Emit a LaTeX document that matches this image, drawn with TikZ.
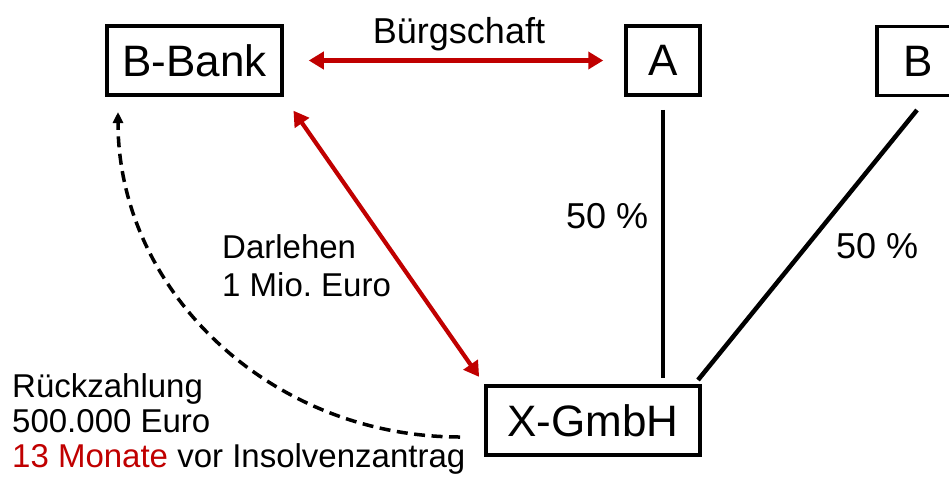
\documentclass[tikz,border=0pt]{standalone}
\usepackage{fontspec}
\setmainfont{Liberation Sans}
\usetikzlibrary{arrows.meta}
\definecolor{darkred}{HTML}{C00000}
\frenchspacing
\begin{document}
\begin{tikzpicture}[x=1pt,y=-1pt,
  box/.style={draw,line width=3.5pt,rectangle,minimum height=69pt,inner sep=0pt,font=\fontsize{44}{50}\selectfont},
  lbl/.style={font=\fontsize{36}{40}\selectfont,inner sep=0pt},
  lbls/.style={font=\fontsize{33}{37}\selectfont,inner sep=0pt},
  redarrow/.style={draw=darkred,line width=4.2pt,{Triangle[length=15pt,width=17pt]}-{Triangle[length=15pt,width=17pt]}},
  solidline/.style={line width=4.5pt},
  dashline/.style={line width=3.5pt,dash pattern=on 11pt off 6.5pt,-{Triangle[length=11pt,width=10pt]}}
]
\useasboundingbox (0,0) rectangle (949,480);
\node[box,minimum width=175pt] (bank) at (194.5,60.5) {B-Bank};
\node[box,minimum width=74pt] (a) at (663,60.5) {A};
\node[box,minimum width=82pt] (b) at (918,61) {B};
\node[box,minimum width=214pt] (x) at (593,420.5) {X-GmbH};

\draw[redarrow,shorten <=25pt,shorten >=21pt] (bank.east) -- (a.west);
\node[lbl,anchor=base] (buerg) at (459,43) {Bürgschaft};

\draw[redarrow,shorten <=17pt,shorten >=9pt] (bank.south east) -- (x.north west);
\node[lbls,anchor=base west,align=left] (darl) at (222,296) {Darlehen\\[1pt]1 Mio. Euro};

\draw[solidline,shorten <=13pt,shorten >=6pt] (a.south) -- (a.south |- x.north);
\node[lbl,anchor=base west] (p1) at (566,228) {50 \%};

\coordinate (bl) at (917,110);
\coordinate (bx) at (698,380);
\draw[solidline] (bl) -- (bx);
\node[lbl,anchor=base west] (p2) at (836,258) {50 \%};

\coordinate (ds) at (460,437);
\coordinate (de) at (118,112);
\draw[dashline] (ds) .. controls (271,437) and (118,291.5) .. (de);

\node[lbls,anchor=base west,align=left] (rueck) at (12,467) {Rückzahlung\\[-2pt]500.000 Euro\\[-2pt]\textcolor{darkred}{13 Monate} vor Insolvenzantrag};
\end{tikzpicture}
\end{document}
